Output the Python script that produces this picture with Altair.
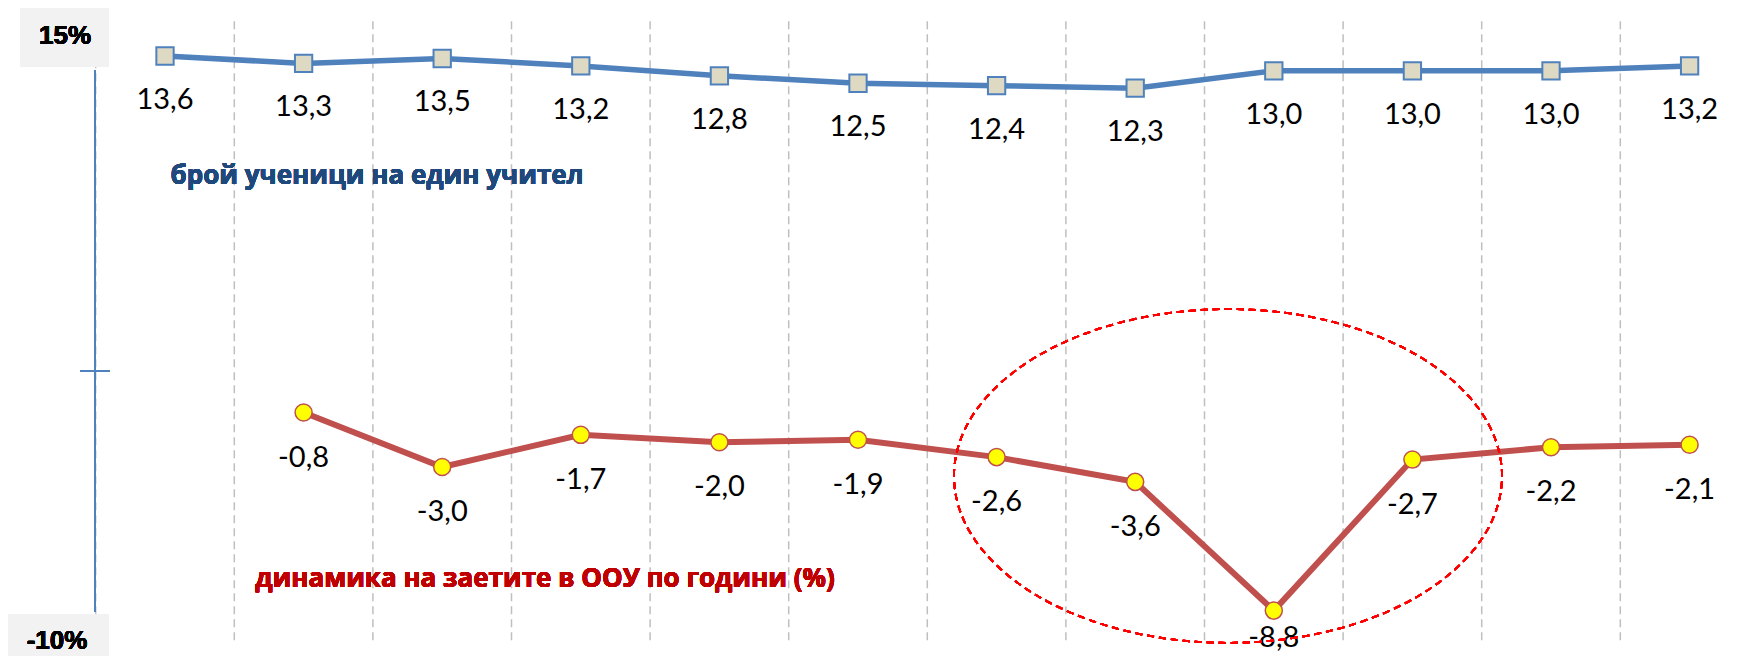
import altair as alt
import pandas as pd

# ---------------- data ----------------
period_index = list(range(12))
students_per_teacher = [13.6, 13.3, 13.5, 13.2, 12.8, 12.5, 12.4, 12.3, 13.0, 13.0, 13.0, 13.2]
employment_change = [None, -0.8, -3.0, -1.7, -2.0, -1.9, -2.6, -3.6, -8.8, -2.7, -2.2, -2.1]
blue_title = "брой ученици на един учител"
red_title = "динамика на заетите в ООУ по години (%)"
axis_top_label = "15%"
axis_bottom_label = "-10%"
axis_min, axis_max = -10, 15

# ---------------- layout ----------------
W, H = 1730, 648
# calibration of the scales (page pixels)
X0, DX = 165.0, 138.6          # x of first category, category spacing
Y_REF_V, Y_REF_PX, DY = 13.6, 56.0, 24.76
x_dom = [(8 - X0) / DX, (8 + W - X0) / DX]
y_dom = [Y_REF_V - (8 + H - Y_REF_PX) / DY, Y_REF_V + (Y_REF_PX - 8) / DY]
xs = alt.Scale(domain=x_dom, nice=False, zero=False)
ys = alt.Scale(domain=y_dom, nice=False, zero=False)

blue_df = pd.DataFrame({"i": period_index, "v": students_per_teacher})
red_df = pd.DataFrame({"i": period_index, "v": employment_change}).dropna()
grid_df = pd.DataFrame({"b": [i - 0.5 for i in period_index]})

LABEL = "(datum.v < 0 ? '-' : '') + replace(format(abs(datum.v), '.1f'), '.', ',')"

X = lambda f: alt.X(f, type="quantitative", scale=xs, axis=None)
Y = lambda f: alt.Y(f, type="quantitative", scale=ys, axis=None)

grid = alt.Chart(grid_df).mark_rule(color="#BFBFBF", strokeWidth=1.5, strokeDash=[8, 5]).encode(
    x=X("b"),
    y=alt.YDatum(axis_max, type="quantitative", scale=ys, axis=None),
    y2=alt.Y2Datum(axis_min),
)

axis_line = alt.Chart(blue_df).mark_rule(color="#4F81BD", strokeWidth=2).encode(
    x=alt.value(87), y=alt.value(62), y2=alt.value(604)
)
axis_tick = alt.Chart(blue_df).mark_rule(color="#4F81BD", strokeWidth=2).encode(
    x=alt.value(72), x2=alt.value(102), y=alt.value(363)
)

box_top = alt.Chart(blue_df).mark_rect(fill="#F2F2F2").encode(
    x=alt.value(12), x2=alt.value(101), y=alt.value(0), y2=alt.value(59)
)
box_bot = alt.Chart(blue_df).mark_rect(fill="#F2F2F2").encode(
    x=alt.value(0), x2=alt.value(101), y=alt.value(606), y2=alt.value(648)
)
pct_font = "Liberation Sans"
txt_top = alt.Chart(blue_df).mark_text(text=axis_top_label, font=pct_font, fontSize=26, fontWeight="bold",
                                       color="black", baseline="middle").encode(x=alt.value(57), y=alt.value(28))
txt_bot = alt.Chart(blue_df).mark_text(text=axis_bottom_label, font=pct_font, fontSize=26, fontWeight="bold",
                                       color="black", baseline="middle").encode(x=alt.value(49), y=alt.value(633))

blue_line = alt.Chart(blue_df).mark_line(color="#4F81BD", strokeWidth=5.5).encode(x=X("i"), y=Y("v"))
blue_pts = alt.Chart(blue_df).mark_point(shape="square", fill="#DDD9C3", stroke="#4F81BD", strokeWidth=2,
                                         size=300, opacity=1, fillOpacity=1).encode(x=X("i"), y=Y("v"))
blue_lbl = alt.Chart(blue_df).transform_calculate(lab=LABEL).mark_text(
    font="Lato, Open Sans", fontSize=29, dy=44, color="black", baseline="middle"
).encode(x=X("i"), y=Y("v"), text="lab:N")

red_line = alt.Chart(red_df).mark_line(color="#C0504D", strokeWidth=6).encode(x=X("i"), y=Y("v"))
red_pts = alt.Chart(red_df).mark_point(shape="circle", fill="#FFFF00", stroke="#C0504D", strokeWidth=1.5,
                                       size=290, opacity=1, fillOpacity=1).encode(x=X("i"), y=Y("v"))
red_lbl = alt.Chart(red_df).transform_filter("datum.v > -8").transform_calculate(lab=LABEL).mark_text(
    font="Lato, Open Sans", fontSize=29, dy=45, color="black", baseline="middle"
).encode(x=X("i"), y=Y("v"), text="lab:N")
red_lbl_min = alt.Chart(red_df).transform_filter("datum.v <= -8").transform_calculate(lab=LABEL).mark_text(
    font="Lato, Open Sans", fontSize=29, dy=27, color="black", baseline="middle"
).encode(x=X("i"), y=Y("v"), text="lab:N")

title_blue = alt.Chart(blue_df).mark_text(text=blue_title, font="Open Sans", fontSize=26, fontWeight="bold",
                                          color="#1F497D", baseline="middle").encode(x=alt.value(369), y=alt.value(168))
title_red = alt.Chart(blue_df).mark_text(text=red_title, font="Open Sans", fontSize=26, fontWeight="bold",
                                         color="#C00000", baseline="middle").encode(x=alt.value(537), y=alt.value(571))

ellipse_path = ("M-1,0 C-1,-0.336 -0.552,-0.609 0,-0.609 C0.552,-0.609 1,-0.336 1,0 "
                "C1,0.336 0.552,0.609 0,0.609 C-0.552,0.609 -1,0.336 -1,0 Z")
ellipse = alt.Chart(blue_df).mark_point(shape=ellipse_path, filled=False, stroke="#FF0000", strokeWidth=1.8,
                                        strokeDash=[7, 5], size=548 * 548, opacity=1).encode(
    x=alt.value(1220), y=alt.value(468)
)

chart = alt.layer(
    grid, box_top, box_bot, txt_top, txt_bot, axis_line, axis_tick,
    blue_line, blue_pts, blue_lbl, red_line, red_pts, red_lbl, red_lbl_min,
    title_blue, title_red, ellipse
).properties(
    width=W, height=H, autosize=alt.AutoSizeParams(type="none"),
    padding={"left": 0, "top": 0, "right": 0, "bottom": 0}, background="white"
).configure_view(stroke=None)

chart.save("out.html", embed_options={"renderer": "svg", "actions": False})
